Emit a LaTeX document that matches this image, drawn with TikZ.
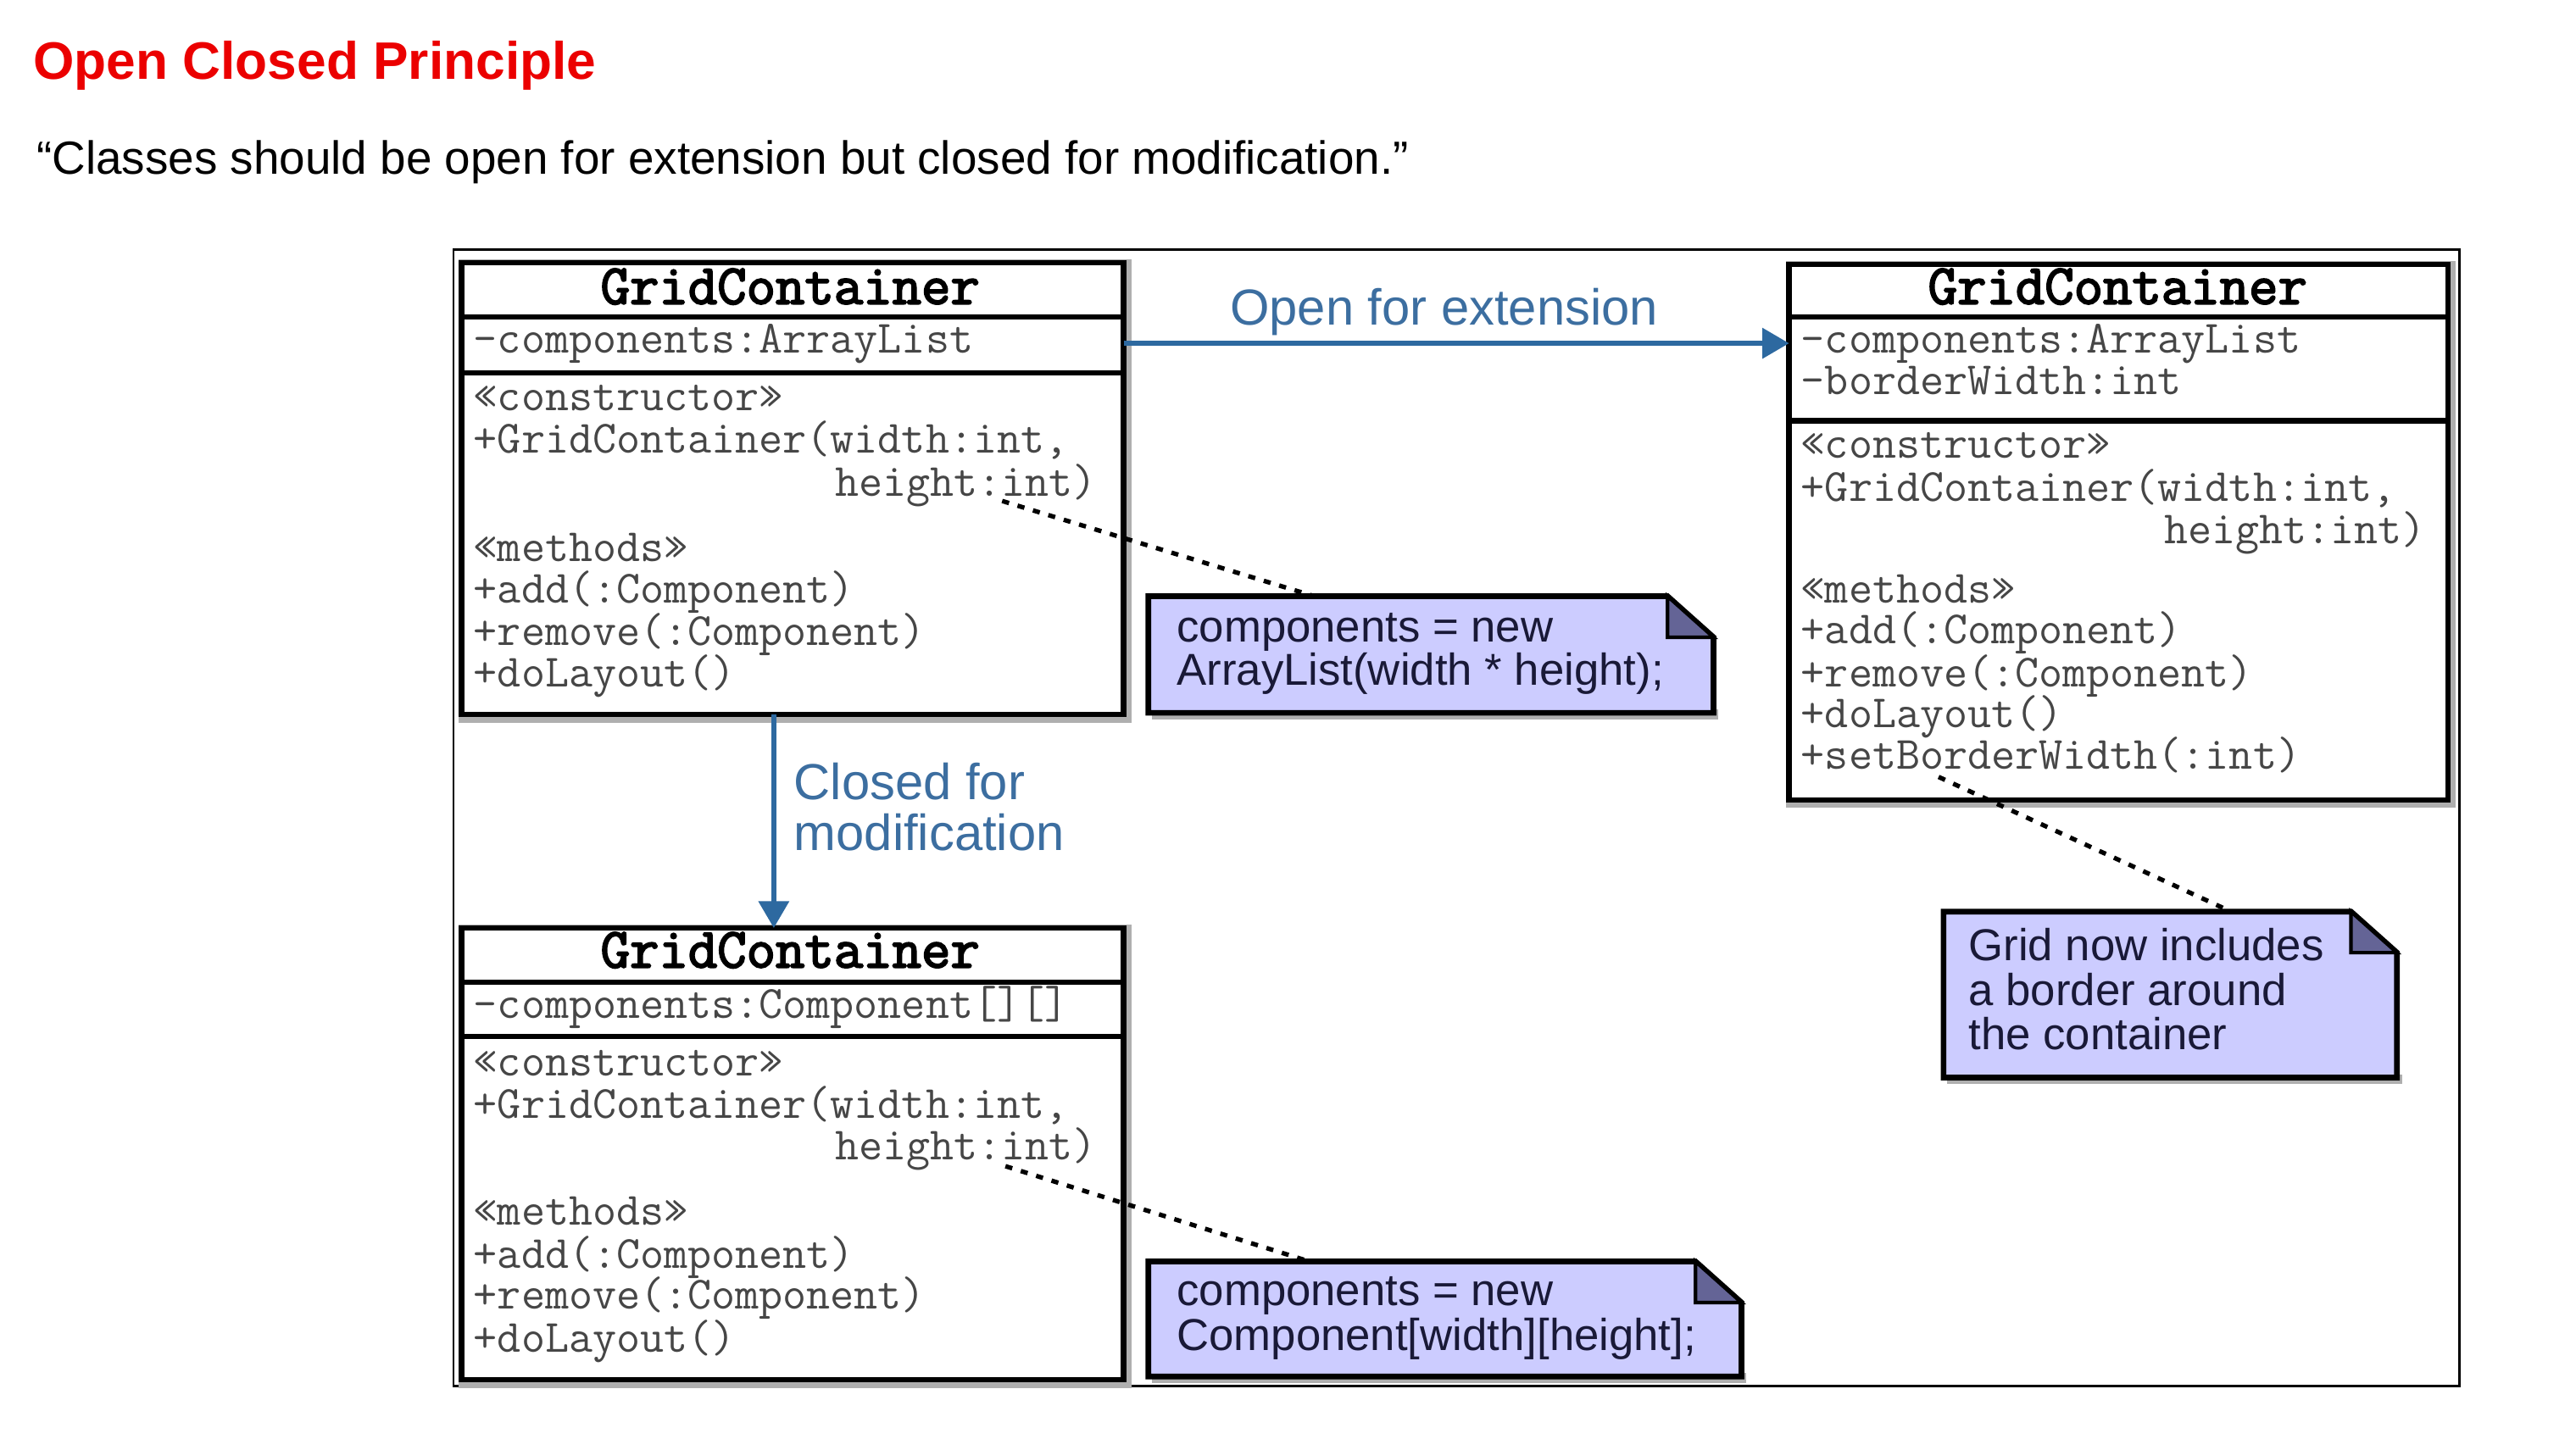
\documentclass[tikz,border=0pt]{standalone}
\usepackage{fontspec}
\setmainfont{Liberation Sans}
\newfontfamily\monof{Latin Modern Mono}
\newfontfamily\monobf[FakeBold=3]{Latin Modern Mono}
\usetikzlibrary{arrows.meta,fit,calc}
\definecolor{titlered}{RGB}{235,0,0}
\definecolor{arrowblue}{RGB}{45,105,160}
\definecolor{labelblue}{RGB}{60,110,160}
\definecolor{notefill}{RGB}{204,204,255}
\definecolor{foldfill}{RGB}{100,100,150}
\definecolor{membertext}{RGB}{70,70,70}
\definecolor{notetext}{RGB}{25,25,55}
\definecolor{shadowgray}{RGB}{175,175,175}
\begin{document}
\begin{tikzpicture}[x=0.01938cm,y=-0.01938cm,
  classbox/.style={draw=black,line width=1.9pt,fill=white,inner sep=0pt,outer sep=0pt},
  notebox/.style={draw=none,inner sep=0pt,outer sep=0pt},
  noteline/.style={draw=black,line width=1.9pt,fill=notefill,line join=miter},
  foldline/.style={draw=black,line width=1.2pt,fill=foldfill,line join=miter},
  sep/.style={line width=1.9pt},
  member/.style={anchor=base west,inner sep=0pt,font=\monof\fontsize{15.5}{18}\selectfont,text=membertext},
  memberr/.style={member,anchor=base east},
  classname/.style={anchor=base,inner sep=0pt,font=\monobf\fontsize{19}{22}\selectfont,text=black},
  notetxt/.style={anchor=base west,inner sep=0pt,font=\fontsize{15}{17}\selectfont,text=notetext},
  bluelabel/.style={inner sep=0pt,font=\fontsize{17}{20}\selectfont,text=labelblue},
  bluearrow/.style={draw=arrowblue,line width=1.7pt,-{Triangle[length=9pt,width=10pt]}},
  noteconn/.style={draw=black,line width=1.5pt,dash pattern=on 2.4pt off 3pt},
  shadowbox/.style={draw=shadowgray,line width=3.2pt}]
\useasboundingbox (0,0) rectangle (1568,876);

% heading
\node[anchor=base west,inner sep=0pt,font=\bfseries\fontsize{17.7}{20}\selectfont,text=titlered] (title) at (20,48) {Open Closed Principle};
\node[anchor=base west,inner sep=0pt,font=\fontsize{15.6}{18}\selectfont] (quote) at (22,106) {“Classes should be open for extension but closed for modification.”};

% outer frame
\draw[line width=0.8pt] (276,152) rectangle (1497,844);

% shadows
\draw[shadowbox] (282,161) rectangle (686,437);
\draw[shadowbox] (1090,162) rectangle (1492,489);
\draw[shadowbox] (282,566) rectangle (686,842);

% class boxes
\node[classbox,fit={(281,160)(684,435)}] (c1) {};
\node[classbox,fit={(1089,161)(1490,487)}] (c2) {};
\node[classbox,fit={(281,565)(684,840)}] (c3) {};

% separators
\draw[sep] (281,193) -- (684,193);
\draw[sep] (281,227) -- (684,227);
\draw[sep] (1089,193) -- (1490,193);
\draw[sep] (1089,256) -- (1490,256);
\draw[sep] (281,598) -- (684,598);
\draw[sep] (281,631) -- (684,631);

% class 1 text
\node[classname] (c1name) at (481,185) {GridContainer};
\node[member] (c1a1) at (288,215) {-components:ArrayList};
\node[member] (c1m1) at (288,250) {«constructor»};
\node[member] (c1m2) at (288,276) {+GridContainer(width:int,};
\node[memberr] (c1m3) at (668,302) {height:int)};
\node[member] (c1m4) at (288,342) {«methods»};
\node[member] (c1m5) at (288,367) {+add(:Component)};
\node[member] (c1m6) at (288,393) {+remove(:Component)};
\node[member] (c1m7) at (288,418) {+doLayout()};

% class 2 text
\node[classname] (c2name) at (1289,185) {GridContainer};
\node[member] (c2a1) at (1096,215) {-components:ArrayList};
\node[member] (c2a2) at (1096,240) {-borderWidth:int};
\node[member] (c2m1) at (1096,279) {«constructor»};
\node[member] (c2m2) at (1096,305) {+GridContainer(width:int,};
\node[memberr] (c2m3) at (1477,331) {height:int)};
\node[member] (c2m4) at (1096,367) {«methods»};
\node[member] (c2m5) at (1096,392) {+add(:Component)};
\node[member] (c2m6) at (1096,418) {+remove(:Component)};
\node[member] (c2m7) at (1096,443) {+doLayout()};
\node[member] (c2m8) at (1096,468) {+setBorderWidth(:int)};

% class 3 text
\node[classname] (c3name) at (481,589) {GridContainer};
\node[member] (c3a1) at (288,620) {-components:Component[][]};
\node[member] (c3m1) at (288,655) {«constructor»};
\node[member] (c3m2) at (288,681) {+GridContainer(width:int,};
\node[memberr] (c3m3) at (668,706) {height:int)};
\node[member] (c3m4) at (288,746) {«methods»};
\node[member] (c3m5) at (288,772) {+add(:Component)};
\node[member] (c3m6) at (288,797) {+remove(:Component)};
\node[member] (c3m7) at (288,823) {+doLayout()};

% notes
\fill[shadowgray] (701,432) rectangle (1046,438);
\fill[shadowgray] (1185,654) rectangle (1462,660);
\fill[shadowgray] (701,836) rectangle (1063,842);
\node[notebox,fit={(699,363)(1043,434)}] (n1) {};
\node[notebox,fit={(1183,555)(1459,656)}] (n2) {};
\node[notebox,fit={(699,768)(1060,838)}] (n3) {};
\foreach \n in {n1,n2,n3}{
  \path[noteline] (\n.south west) -- (\n.north west) -- ($(\n.north east)+(-28,0)$)
    -- ($(\n.north east)+(0,25)$) -- (\n.south east) -- cycle;
  \path[foldline] ($(\n.north east)+(-28,0)$) -- ($(\n.north east)+(-28,25)$)
    -- ($(\n.north east)+(0,25)$) -- cycle;
}
\node[notetxt] (n1t1) at (716,391) {components = new};
\node[notetxt] (n1t2) at (716,417) {ArrayList(width * height);};
\node[notetxt] (n2t1) at (1198,585) {Grid now includes};
\node[notetxt] (n2t2) at (1198,612) {a border around};
\node[notetxt] (n2t3) at (1198,639) {the container};
\node[notetxt] (n3t1) at (716,795) {components = new};
\node[notetxt] (n3t2) at (716,822) {Component[width][height];};

% note connectors
\coordinate (d1s) at (610,305);
\coordinate (d1e) at ($(n1.north west)+(101,0)$);
\coordinate (d2s) at (1180,473);
\coordinate (d2e) at ($(n2.north west)+(175,0)$);
\coordinate (d3s) at (612,710);
\coordinate (d3e) at ($(n3.north west)+(98,0)$);
\draw[noteconn] (d1s) -- (d1e);
\draw[noteconn] (d2s) -- (d2e);
\draw[noteconn] (d3s) -- (d3e);

% blue arrows
\coordinate (r1) at (0,209);
\coordinate (v1) at (471,0);
\draw[bluearrow] (c1.east |- r1) -- (c2.west |- r1);
\draw[bluearrow] (c1.south -| v1) -- (c3.north -| v1);
\node[bluelabel,anchor=base] (lopen) at (879,198) {Open for extension};
\node[bluelabel,anchor=base west] (lclosed1) at (483,487) {Closed for};
\node[bluelabel,anchor=base west] (lclosed2) at (483,518) {modification};
\end{tikzpicture}
\end{document}
